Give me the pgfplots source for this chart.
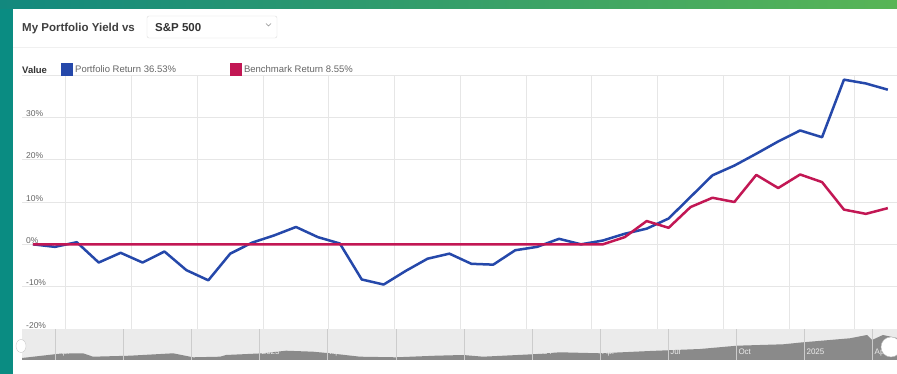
\documentclass[border=0pt]{standalone}
\usepackage{fontspec}
\setmainfont{Liberation Sans}
\usepackage{pgfplots}
\pgfplotsset{compat=1.18}
\usepackage{pgfplotstable}

\definecolor{frameteal}{HTML}{0A8C82}
\definecolor{barteal}{HTML}{12887E}
\definecolor{bargreen}{HTML}{58B556}
\definecolor{portblue}{HTML}{2548AA}
\definecolor{benchred}{HTML}{C21754}
\definecolor{gridgray}{HTML}{E6E6E6}
\definecolor{ticktext}{HTML}{666666}
\definecolor{navband}{HTML}{EBEBEB}
\definecolor{navarea}{HTML}{8A8A8A}

% monthly cumulative returns (%)
\pgfplotstableread{
i   port   bench
0   0.0    0
1   -0.6   0
2   0.5    0
3   -4.3   0
4   -2.0   0
5   -4.3   0
6   -1.7   0
7   -6.1   0
8   -8.5   0
9   -2.2   0
10  0.4    0
11  2.1    0
12  4.1    0
13  1.7    0
14  0.2    0
15  -8.3   0
16  -9.5   0
17  -6.3   0
18  -3.4   0
19  -2.2   0
20  -4.6   0
21  -4.8   0
22  -1.4   0
23  -0.6   0
24  1.3    0
25  0.0    0
26  0.9    0
27  2.5    1.7
28  3.7    5.5
29  6.1    3.9
30  11.2   8.8
31  16.3   11.0
32  18.6   10.0
33  21.4   16.4
34  24.3   13.3
35  26.9   16.5
36  25.3   14.7
37  38.9   8.2
38  38.0   7.2
39  36.53  8.55
}\returns

% range navigator overview (month index from Jan 2022, relative level)
\pgfplotstableread{
m     h
1.53  2
2.3   4
3.34  6.7
4.22  6.7
4.66  3.3
6.29  4.3
8.19  6.7
9.07  2.7
10.26 3.3
10.52 5
12.15 6.7
13.16 9.3
14.35 8.3
15.1  6.7
16.42 3.3
18.0  2.7
19.77 4.3
20.96 5
21.84 3.3
24.0  5.7
25.23 7.7
27.0  6.7
29.2  9
31.4  11
33.03 14.3
35.06 15.7
35.94 17.7
38.0  21.7
38.76 25
38.98 20
39.46 25
40.08 22
}\overview

\begin{document}
\begin{tikzpicture}[x=1pt,y=1pt]
\useasboundingbox (0,0) rectangle (897,374);
\clip (0,0) rectangle (897,374);
\fill[white] (0,0) rectangle (897,374);
\fill[frameteal] (0,0) rectangle (13,374);
\shade[left color=barteal, right color=bargreen] (0,365) rectangle (897,374);
\draw[black!6, line width=0.8pt] (13,327) -- (897,327);

% header
\node[anchor=base west, inner sep=0pt, font=\fontsize{11.5}{13}\selectfont\bfseries, text=black!75] at (22,342) {My Portfolio Yield vs};
\draw[black!14, fill=white, rounded corners=2pt] (147,336) rectangle (277,358);
\node[anchor=base west, inner sep=0pt, font=\fontsize{11.5}{13}\selectfont\bfseries, text=black!80] at (155,342) {S\&P 500};
\draw[black!45, line width=0.6pt] (266,350.5) -- (268.5,348) -- (271,350.5);
\node[anchor=west, inner sep=0pt, font=\fontsize{9.5}{11}\selectfont\bfseries, text=black!80] at (22,304) {Value};

\begin{axis}[
  at={(22pt,45pt)}, anchor=south west, scale only axis,
  width=875pt, height=254pt,
  xmin=-0.5, xmax=39.42, ymin=-20, ymax=40,
  axis line style={draw=none},
  xtick={1.5,4.5,...,37.5}, xticklabels={}, xmajorgrids,
  ytick={-20,-10,...,40}, yticklabels={-20\%,-10\%,0\%,10\%,20\%,30\%,{}}, ymajorgrids,
  grid style={gridgray, line width=0.9pt},
  major tick length=0pt,
  yticklabel style={anchor=south west, font=\fontsize{8.5}{10}\selectfont, text=ticktext, inner sep=0.5pt, xshift=3.5pt},
  legend style={at={(0,1)}, anchor=west, xshift=39pt, yshift=5pt, draw=none, fill=none, inner sep=0pt,
    font=\fontsize{9.5}{11}\selectfont, text=ticktext, legend columns=2,
    /tikz/every even column/.append style={column sep=52pt}},
  legend image code/.code={\fill[#1, draw=none] (0pt,-6.5pt) rectangle (12pt,6.5pt);},
  legend cell align=left,
]
\addplot[portblue, line width=2.5pt, line join=round] table[x=i, y=port] {\returns};
\addlegendentry{Portfolio Return 36.53\%}
\addplot[benchred, line width=2.5pt, line join=round] table[x=i, y=bench] {\returns};
\addlegendentry{Benchmark Return 8.55\%}
\end{axis}

\begin{axis}[
  at={(22pt,14pt)}, anchor=south west, scale only axis,
  width=875pt, height=31pt,
  xmin=1.53, xmax=40.08, ymin=0, ymax=31,
  axis background/.style={fill=navband},
  axis line style={draw=none}, axis on top,
  xtick={3,6,...,39},
  xticklabels={Apr,Jul,Oct,2023,Apr,Jul,Oct,2024,Apr,Jul,Oct,2025,Apr},
  xmajorgrids, grid style={black!20, line width=0.5pt},
  ytick=\empty, major tick length=0pt,
  xticklabel style={anchor=base west, font=\fontsize{8}{9}\selectfont, text=white!85!gray, inner sep=0pt, xshift=2pt, yshift=5pt},
]
\addplot[fill=navarea, draw=none] table[x=m, y=h] {\overview} \closedcycle;
\end{axis}

% navigator handles
\draw[black!25, fill=white] (891,27) circle (10);
\draw[black!20, fill=white] (21,28) ellipse (5 and 6.5);
\end{tikzpicture}
\end{document}
